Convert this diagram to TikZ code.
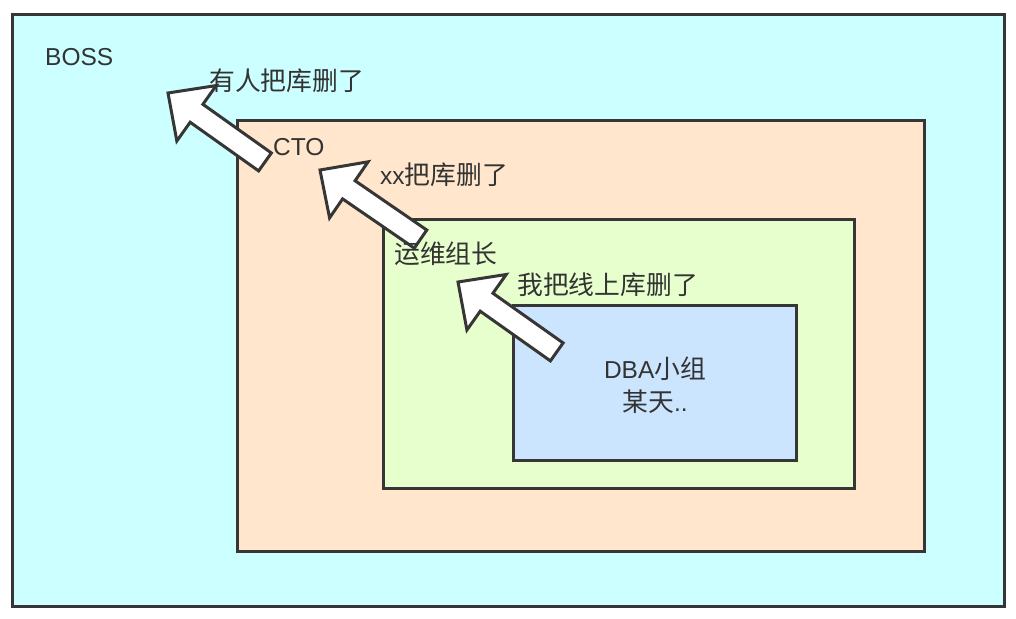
\documentclass[tikz,border=0pt]{standalone}
\usepackage{fontspec}
\setmainfont{Liberation Sans}
\newfontfamily\cjk{Noto Sans CJK SC}
\newcommand\zh[1]{{\fontsize{25.8}{33}\cjk #1}}
\definecolor{bosscol}{HTML}{CCFFFF}
\definecolor{ctocol}{HTML}{FFE6CC}
\definecolor{leadcol}{HTML}{E6FFCC}
\definecolor{dbacol}{HTML}{CCE5FF}
\definecolor{edge}{HTML}{363636}
\definecolor{txt}{HTML}{333333}
\newcommand\blockarrow[4]{% tip x, tip y, angle, length
\begin{scope}[shift={(#1,#2)}, rotate=-#3]
\draw[arrowst] (0,0) -- (35,-34) -- (35,-11) -- (#4,-11) -- (#4,11) -- (35,11) -- (35,34) -- cycle;
\end{scope}}
\begin{document}
\begin{tikzpicture}[x=1pt,y=-1pt,
  box/.style={draw=edge, line width=3pt},
  arrowst/.style={draw=edge, fill=white, line width=3pt, line join=miter},
  lbl/.style={text=txt, inner sep=0pt, font=\fontsize{24.5}{33}\selectfont}]
\useasboundingbox (0,0) rectangle (1016,618);
\draw[box, fill=bosscol] (12,15) rectangle (1004,606);
\draw[box, fill=ctocol] (237,120) rectangle (924,551);
\draw[box, fill=leadcol] (383,219) rectangle (854,488);
\draw[box, fill=dbacol] (513,305) rectangle (796,460);
\blockarrow{168}{93}{35.4}{119}
\blockarrow{320}{170}{34.5}{122}
\blockarrow{458}{282}{35.3}{121}
\node[lbl, anchor=base west] (boss) at (45,65) {BOSS};
\node[lbl, anchor=west] (t1) at (209,81) {\zh{有人把库删了}};
\node[lbl, anchor=base west] (cto) at (273,155) {CTO};
\node[lbl, anchor=west] (t2) at (380,175) {xx\zh{把库删了}};
\node[lbl, anchor=west] (lead) at (394,254) {\zh{运维组长}};
\node[lbl, anchor=west] (t3) at (517,285) {\zh{我把线上库删了}};
\node[lbl, align=center] (dba) at (655,385) {DBA\zh{小组}\\\zh{某天}..};
\end{tikzpicture}
\end{document}
